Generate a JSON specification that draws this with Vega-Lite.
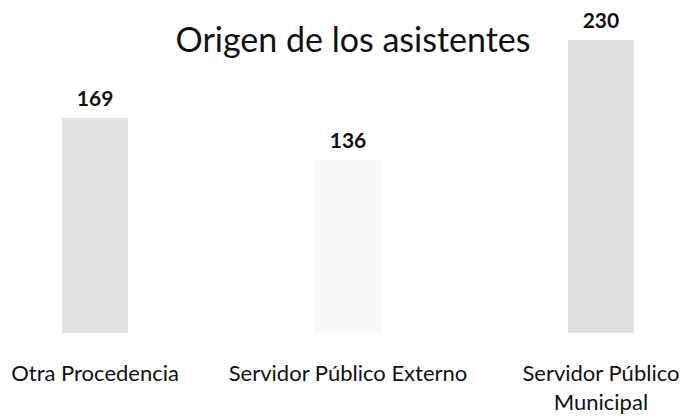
{
  "$schema": "https://vega.github.io/schema/vega-lite/v6.json",
  "autosize": "none",
  "padding": {"left": 13, "right": 0, "top": 40, "bottom": 84},
  "width": 670,
  "height": 293,
  "background": "white",
  "title": {
    "text": "Origen de los asistentes",
    "fontSize": 34,
    "font": "Lato",
    "fontWeight": "normal",
    "color": "#111111",
    "baseline": "alphabetic",
    "offset": 0,
    "dy": 75,
    "dx": 5
  },
  "config": {"view": {"stroke": null}},
  "data": {
    "values": [
      {"origen": "Otra Procedencia", "asistentes": 169},
      {"origen": "Servidor Público Externo", "asistentes": 136},
      {"origen": "Servidor Público Municipal", "asistentes": 230}
    ]
  },
  "encoding": {
    "x": {
      "field": "origen",
      "type": "nominal",
      "sort": null,
      "scale": {"paddingInner": 0.739, "paddingOuter": 0.194},
      "axis": {
        "title": null,
        "domain": false,
        "ticks": false,
        "labelAngle": 0,
        "labelFontSize": 22,
        "labelFont": "Lato",
        "labelColor": "#111111",
        "labelPadding": 30,
        "labelLimit": 0,
        "labelLineHeight": 29,
        "labelExpr": "datum.label == 'Servidor Público Municipal' ? ['Servidor Público', 'Municipal'] : datum.label"
      }
    },
    "y": {
      "field": "asistentes",
      "type": "quantitative",
      "scale": {"domain": [0, 230], "nice": false},
      "axis": null
    }
  },
  "layer": [
    {
      "mark": {"type": "bar"},
      "encoding": {
        "color": {
          "field": "origen",
          "type": "nominal",
          "scale": {
            "domain": ["Otra Procedencia", "Servidor Público Externo", "Servidor Público Municipal"],
            "range": ["#e2e2e2", "#f8f8f8", "#e0e0e0"]
          },
          "legend": null
        }
      }
    },
    {
      "mark": {
        "type": "text",
        "baseline": "alphabetic",
        "dy": -12,
        "fontSize": 21,
        "font": "Lato",
        "fontWeight": "bold",
        "color": "#111111"
      },
      "encoding": {"text": {"field": "asistentes", "type": "quantitative"}}
    }
  ]
}
